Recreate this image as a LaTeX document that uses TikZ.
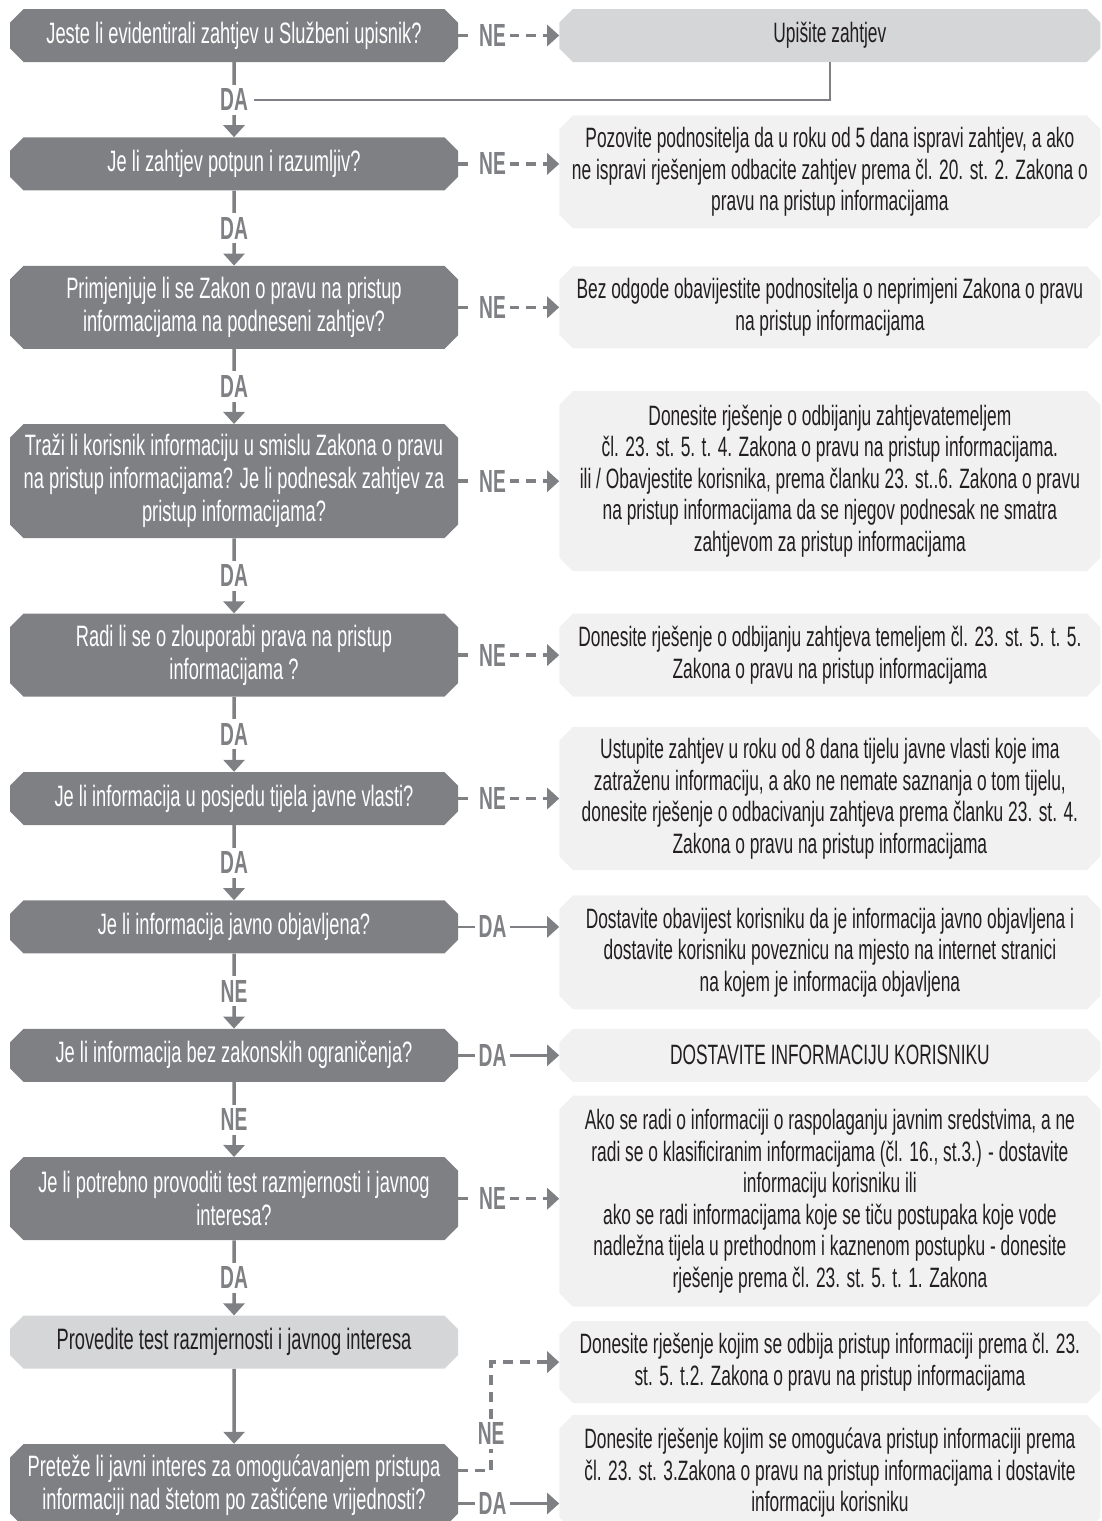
\documentclass[tikz,border=0pt]{standalone}
\usepackage{fontspec}
\setmainfont{Liberation Sans}[FakeStretch=0.62]
\newfontfamily\ynfont{Liberation Sans}[FakeStretch=0.6]
\usepackage{xcolor}
\usepackage{tikz}
\usetikzlibrary{shapes.misc, arrows.meta, positioning}

\definecolor{qgray}{HTML}{7F8084}
\definecolor{actgray}{HTML}{D5D6D8}
\definecolor{notegray}{HTML}{F1F1F2}
\definecolor{txtdark}{HTML}{231F20}

\begin{document}
\begin{tikzpicture}[x=1pt, y=1pt, node distance=75pt]
        \tikzstyle{question} = [chamfered rectangle, chamfered rectangle xsep=10pt, inner sep=0pt, minimum width=448pt, minimum height=53pt, align=center, fill=qgray, text=white, font=\fontsize{29.5}{33}\selectfont]
        \tikzstyle{action} = [question, fill=actgray, text=txtdark]
        \tikzstyle{answer} = [chamfered rectangle, chamfered rectangle xsep=10pt, inner sep=0pt, minimum width=541pt, minimum height=53pt, align=center, fill=notegray, text=txtdark, font=\fontsize{28}{31.5}\selectfont]
        \tikzstyle{yn} = [fill=white, inner sep=4pt, text=qgray, font=\ynfont\bfseries\fontsize{32}{32}\selectfont]
        \tikzstyle{arrow} = [draw=qgray, line width=3.5pt, -{Triangle[length=12pt, width=21pt]}]
        \tikzstyle{nearrow} = [arrow, dash pattern=on 10pt off 7pt]
        \tikzstyle{daarrow} = [arrow, line width=2.5pt]
        \tikzstyle{back} = [draw=qgray, line width=2pt]

        \useasboundingbox (0,0) rectangle (1102,-1521);

        \node (q1) [question] at (234,-35.5) {Jeste li evidentirali zahtjev u Službeni upisnik?};
        \node (q2) [question, below=of q1] {Je li zahtjev potpun i razumljiv?};
        \node (q3) [question, below=of q2, minimum height=83pt] {Primjenjuje li se Zakon o pravu na pristup\\ informacijama na podneseni zahtjev?};
        \node (q4) [question, below=of q3, minimum height=114pt] {Traži li korisnik informaciju u smislu Zakona o pravu\\ na pristup informacijama? Je li podnesak zahtjev za\\ pristup informacijama?};
        \node (q5) [question, below=of q4, minimum height=83pt] {Radi li se o zlouporabi prava na pristup\\ informacijama ?};
        \node (q6) [question, below=of q5] {Je li informacija u posjedu tijela javne vlasti?};
        \node (q7) [question, below=of q6] {Je li informacija javno objavljena?};
        \node (q8) [question, below=of q7] {Je li informacija bez zakonskih ograničenja?};
        \node (q9) [question, below=of q8, minimum height=83pt] {Je li potrebno provoditi test razmjernosti i javnog\\ interesa?};
        \node (q10) [action, below=of q9] {Provedite test razmjernosti i javnog interesa};
        \node (q11) [question, below=of q10, minimum height=83pt] {Preteže li javni interes za omogućavanjem pristupa\\ informaciji nad štetom po zaštićene vrijednosti?};

        \node (r1) [answer, right=101pt of q1, fill=actgray] {Upišite zahtjev};
        \node (r2) [answer, right=101pt of q2, yshift=-8pt, minimum height=113pt] {Pozovite podnositelja da u roku od 5 dana ispravi zahtjev, a ako\\ ne ispravi rješenjem odbacite zahtjev prema čl. 20. st. 2. Zakona o\\ pravu na pristup informacijama};
        \node (r3) [answer, right=101pt of q3, minimum height=82pt] {Bez odgode obavijestite podnositelja o neprimjeni Zakona o pravu\\ na pristup informacijama};
        \node (r4) [answer, right=101pt of q4, minimum height=180pt] {Donesite rješenje o odbijanju zahtjevatemeljem\\ čl. 23. st. 5. t. 4. Zakona o pravu na pristup informacijama.\\ ili / Obavjestite korisnika, prema članku 23. st..6. Zakona o pravu\\ na pristup informacijama da se njegov podnesak ne smatra\\ zahtjevom za pristup informacijama};
        \node (r5) [answer, right=101pt of q5, minimum height=83pt] {Donesite rješenje o odbijanju zahtjeva temeljem čl. 23. st. 5. t. 5.\\ Zakona o pravu na pristup informacijama};
        \node (r6) [answer, right=101pt of q6, minimum height=143pt] {Ustupite zahtjev u roku od 8 dana tijelu javne vlasti koje ima\\ zatraženu informaciju, a ako ne nemate saznanja o tom tijelu,\\ donesite rješenje o odbacivanju zahtjeva prema članku 23. st. 4.\\ Zakona o pravu na pristup informacijama};
        \node (r7) [answer, right=101pt of q7, yshift=-25.5pt, minimum height=114pt] {Dostavite obavijest korisniku da je informacija javno objavljena i\\ dostavite korisniku poveznicu na mjesto na internet stranici\\ na kojem je informacija objavljena};
        \node (r8) [answer, right=101pt of q8] {DOSTAVITE INFORMACIJU KORISNIKU};
        \node (r9) [answer, right=101pt of q9, yshift=-2.5pt, minimum height=211pt] {Ako se radi o informaciji o raspolaganju javnim sredstvima, a ne\\ radi se o klasificiranim informacijama (čl. 16., st.3.) - dostavite\\ informaciju korisniku ili\\ ako se radi informacijama koje se tiču postupaka koje vode\\ nadležna tijela u prethodnom i kaznenom postupku - donesite\\ rješenje prema čl. 23. st. 5. t. 1. Zakona};
        \node (r10) [answer, right=101pt of q10, yshift=-20pt, minimum height=82pt] {Donesite rješenje kojim se odbija pristup informaciji prema čl. 23.\\ st. 5. t.2. Zakona o pravu na pristup informacijama};
        \node (r11) [answer, right=101pt of q11, yshift=12.5pt, minimum height=116pt] {Donesite rješenje kojim se omogućava pristup informaciji prema\\ čl. 23. st. 3.Zakona o pravu na pristup informacijama i dostavite\\ informaciju korisniku};

        \draw [nearrow] (q1.east) -- node[yn, pos=.34] {NE} (q1.east -| r1.west);
        \draw [arrow] (q1) -- node[yn] (da1) {DA} (q2);
        \draw [back] (r1.south) |- (da1.east);
        \draw [nearrow] (q2.east) -- node[yn, pos=.34] {NE} (q2.east -| r2.west);
        \draw [arrow] (q2) -- node[yn] {DA} (q3);
        \draw [nearrow] (q3.east) -- node[yn, pos=.34] {NE} (q3.east -| r3.west);
        \draw [arrow] (q3) -- node[yn] {DA} (q4);
        \draw [nearrow] (q4.east) -- node[yn, pos=.34] {NE} (q4.east -| r4.west);
        \draw [arrow] (q4) -- node[yn] {DA} (q5);
        \draw [nearrow] (q5.east) -- node[yn, pos=.34] {NE} (q5.east -| r5.west);
        \draw [arrow] (q5) -- node[yn] {DA} (q6);
        \draw [nearrow] (q6.east) -- node[yn, pos=.34] {NE} (q6.east -| r6.west);
        \draw [arrow] (q6) -- node[yn] {DA} (q7);
        \draw [daarrow] (q7.east) -- node[yn, pos=.34] {DA} (q7.east -| r7.west);
        \draw [arrow] (q7) -- node[yn] {NE} (q8);
        \draw [daarrow] (q8.east) -- node[yn, pos=.34] {DA} (q8.east -| r8.west);
        \draw [arrow] (q8) -- node[yn] {NE} (q9);
        \draw [nearrow] (q9.east) -- node[yn, pos=.34] {NE} (q9.east -| r9.west);
        \draw [arrow] (q9) -- node[yn] {DA} (q10);
        \draw [arrow] (q10) -- (q11);
        \draw [nearrow] ([yshift=15pt]q11.east) -- ++(33,0) |- node[yn, pos=.17] {NE} (r10.west);
        \draw [daarrow] ([yshift=-18pt]q11.east) -- node[yn, pos=.34, inner ysep=2pt] {DA} ([yshift=-18pt]q11.east -| r11.west);
\end{tikzpicture}
\end{document}
